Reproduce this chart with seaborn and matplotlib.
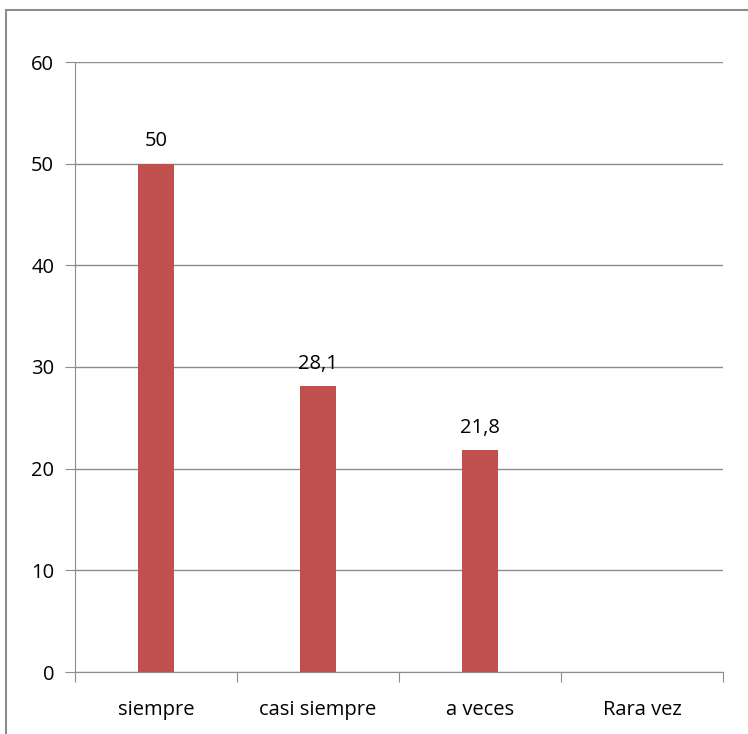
import matplotlib
matplotlib.use("Agg")
import matplotlib.pyplot as plt
from matplotlib.patches import Rectangle
import seaborn as sns
import pandas as pd

# data
categories = ["siempre", "casi siempre", "a veces", "Rara vez"]
values = [50, 28.1, 21.8, 0]
value_labels = ["50", "28,1", "21,8", None]
y_ticks = [0, 10, 20, 30, 40, 50, 60]

bar_color = "#C0504D"
grid_color = "#8C8C8C"

sns.set_style("white")
plt.rcParams["font.family"] = ["Open Sans", "DejaVu Sans"]
plt.rcParams["text.color"] = "black"
plt.rcParams["xtick.color"] = "black"
plt.rcParams["ytick.color"] = "black"

df = pd.DataFrame({"cat": categories, "val": values})

fig = plt.figure(figsize=(7.48, 7.34), dpi=100)
ax = fig.add_axes([75 / 748, 1 - 672 / 734, 648 / 748, 610 / 734])

sns.barplot(data=df, x="cat", y="val", color=bar_color, width=0.22,
            saturation=1, linewidth=0, ax=ax, zorder=3)

ax.set_xlim(-0.5, 3.5)
ax.set_ylim(0, 60)
ax.set_yticks(y_ticks)
ax.set_yticklabels([str(t) for t in y_ticks], fontsize=14.5)
ax.set_xlabel("")
ax.set_ylabel("")

# horizontal gridlines
for t in y_ticks:
    ax.axhline(t, color=grid_color, lw=1, zorder=1)

for s in ["top", "right"]:
    ax.spines[s].set_visible(False)
ax.spines["left"].set_color(grid_color)
ax.spines["bottom"].set_color(grid_color)

# category ticks on the boundaries
ax.set_xticks([-0.5, 0.5, 1.5, 2.5, 3.5], minor=False)
ax.set_xticklabels([])
ax.set_xticks(range(len(categories)), minor=True)
ax.set_xticklabels(categories, minor=True, fontsize=14.5)
ax.tick_params(axis="x", which="major", length=7, color=grid_color, direction="out", bottom=True)
ax.tick_params(axis="x", which="minor", length=0, pad=20)
ax.tick_params(axis="y", length=7, color=grid_color, labelcolor="black",
               direction="out", left=True, pad=8)

for i, (v, lab) in enumerate(zip(values, value_labels)):
    if lab:
        ax.text(i, v + 1.2, lab, ha="center", va="bottom", fontsize=14.5)

# chart area border
fig.patches.append(Rectangle((6 / 748, -0.1), 2, 1 - 10 / 734 + 0.1,
                             transform=fig.transFigure, fill=False,
                             edgecolor=grid_color, lw=1.5))

fig.savefig("out.png", dpi=100)
